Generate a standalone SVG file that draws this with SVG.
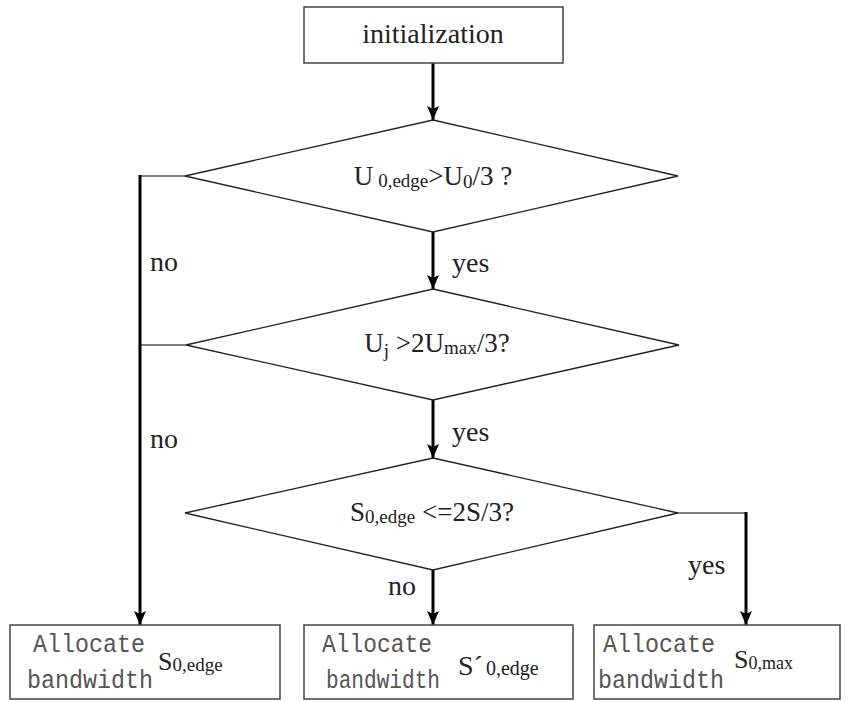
<svg xmlns="http://www.w3.org/2000/svg" width="851" height="702" viewBox="0 0 851 702">
<defs>
<marker id="ah" markerWidth="14" markerHeight="12" refX="14" refY="6" orient="auto" markerUnits="userSpaceOnUse" viewBox="0 0 14 12">
<path d="M0,0 L14,6 L0,12 L3,6 Z" fill="#000"/>
</marker>
<style>
.box{fill:#fff;stroke:#444;stroke-width:1.5}
.dia{fill:#fff;stroke:#222;stroke-width:1.3}
.arr{fill:none;stroke:#000;stroke-width:3}
.ln{fill:none;stroke:#555;stroke-width:1.5}
.t{fill:#222;font-family:'Liberation Serif','Times New Roman','DejaVu Serif',serif}
.m{fill:#555;font-family:'Liberation Mono','Courier New','DejaVu Sans Mono',monospace;font-size:25px}
</style>
</defs>
<rect width="851" height="702" fill="#fff"/>
<g id="connectors">
<line class="arr" x1="433" y1="63" x2="433" y2="120" marker-end="url(#ah)"/>
<line class="arr" x1="433" y1="232" x2="433" y2="289" marker-end="url(#ah)"/>
<line class="arr" x1="433" y1="400" x2="433" y2="458" marker-end="url(#ah)"/>
<line class="arr" x1="433" y1="570" x2="433" y2="625" marker-end="url(#ah)"/>
<polyline class="ln" points="185,176 140,176"/>
<polyline class="ln" points="186,345 140,345"/>
<line class="arr" x1="140" y1="175" x2="140" y2="625" marker-end="url(#ah)"/>
<polyline class="ln" points="678,513 746,513"/>
<line class="arr" x1="746" y1="512" x2="746" y2="625" marker-end="url(#ah)"/>
<g class="t" font-size="28">
<text x="150" y="271">no</text>
<text x="150" y="448">no</text>
<text x="452" y="272">yes</text>
<text x="452" y="441">yes</text>
<text x="388" y="595">no</text>
<text x="688" y="574">yes</text>
</g>
</g>
<g id="init">
<rect class="box" x="304" y="7" width="259" height="56"/>
<text class="t" x="433" y="43" font-size="28" text-anchor="middle">initialization</text>
</g>
<g id="d1">
<polygon class="dia" points="433,120 678,176 433,232 185,176"/>
<text class="t" x="433" y="185" font-size="27" text-anchor="middle">U<tspan font-size="19" dx="5" dy="2">0,edge</tspan><tspan dy="-2">&gt;U</tspan><tspan font-size="19" dy="3">0</tspan><tspan dy="-3">/3 ?</tspan></text>
</g>
<g id="d2">
<polygon class="dia" points="433,289 679,345 433,400 186,345"/>
<text class="t" x="437" y="352" font-size="27" text-anchor="middle">U<tspan font-size="19" dy="5">j</tspan><tspan dy="-5"> &gt;2U</tspan><tspan font-size="19" dy="2">max</tspan><tspan dy="-2">/3?</tspan></text>
</g>
<g id="d3">
<polygon class="dia" points="433,458 678,513 433,570 185,513"/>
<text class="t" x="432" y="521" font-size="27" text-anchor="middle">S<tspan font-size="19" dy="2">0,edge</tspan><tspan dy="-2"> &lt;=2S/3?</tspan></text>
</g>
<g id="b1">
<rect class="box" x="10" y="625" width="270" height="74"/>
<text class="m" x="33" y="652" textLength="112" lengthAdjust="spacingAndGlyphs">Allocate</text>
<text class="m" x="27" y="688" textLength="126" lengthAdjust="spacingAndGlyphs">bandwidth</text>
<text class="t" x="158" y="670" font-size="26">S<tspan font-size="19" dy="1">0,edge</tspan></text>
</g>
<g id="b2">
<rect class="box" x="304" y="625" width="269" height="74"/>
<text class="m" x="322" y="652" textLength="110" lengthAdjust="spacingAndGlyphs">Allocate</text>
<text class="m" x="326" y="688" textLength="114" lengthAdjust="spacingAndGlyphs">bandwidth</text>
<text class="t" x="458" y="675" font-size="28">S´<tspan font-size="20" dx="3">0,edge</tspan></text>
</g>
<g id="b3">
<rect class="box" x="594" y="625" width="246" height="74"/>
<text class="m" x="603" y="652" textLength="112" lengthAdjust="spacingAndGlyphs">Allocate</text>
<text class="m" x="598" y="688" textLength="126" lengthAdjust="spacingAndGlyphs">bandwidth</text>
<text class="t" x="734" y="668" font-size="26">S<tspan font-size="18" dy="1">0,max</tspan></text>
</g>
</svg>
